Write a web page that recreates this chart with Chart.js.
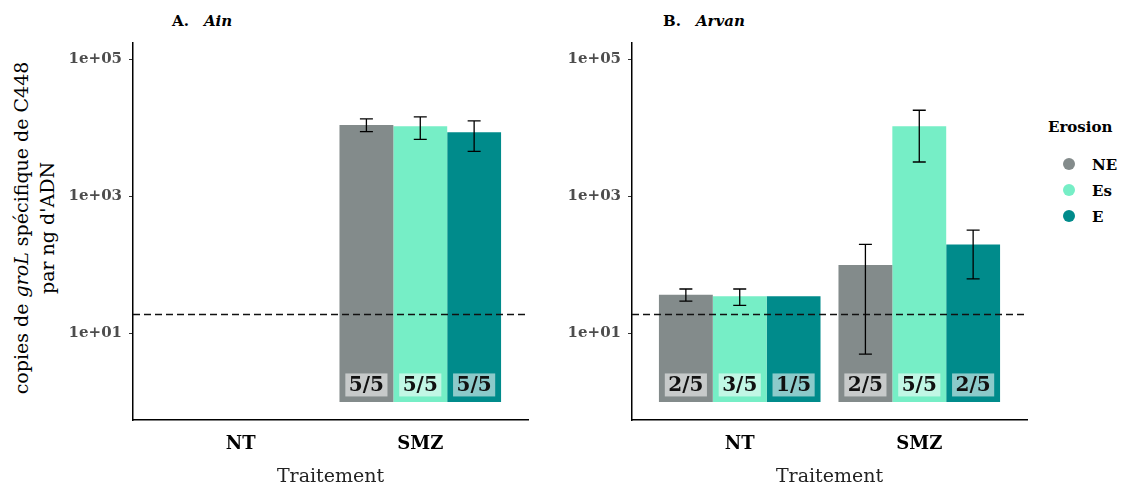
<!DOCTYPE html>
<html>
<head>
<meta charset="utf-8">
<script src="https://cdn.jsdelivr.net/npm/chart.js@4.4.0/dist/chart.umd.min.js"></script>
<style>
body{margin:0;background:#fff;width:1121px;height:488px;position:relative;overflow:hidden;font-family:'DejaVu Serif',serif;color:#000}
canvas{position:absolute;top:0}
#cA{left:0}
#cB{left:560px}
.ttl{position:absolute;top:12px;font-size:15px;font-weight:bold}
.ttl i{margin-left:15px}
.ylab{position:absolute;left:34px;top:228px;transform:translate(-50%,-50%) rotate(-90deg);white-space:nowrap;text-align:center;font-size:19px;line-height:26px}
.legt{position:absolute;left:1048px;top:118px;font-size:15px;font-weight:bold}
.li{position:absolute;left:1063px;font-size:15px;font-weight:bold;line-height:18px}
.li span{display:inline-block;width:12px;height:12px;border-radius:50%;vertical-align:middle;margin-right:17px;position:relative;top:-2px}
</style>
</head>
<body>
<div class="ttl" style="left:172px">A.<i>Ain</i></div>
<div class="ttl" style="left:663px">B.<i>Arvan</i></div>
<div class="ylab">copies de <i>groL</i> spécifique de C448<br>par ng d'ADN</div>
<canvas id="cA" width="560" height="488"></canvas>
<canvas id="cB" width="480" height="488"></canvas>
<div class="legt">Erosion</div>
<div class="li" style="top:156px"><span style="background:#838b8b"></span>NE</div>
<div class="li" style="top:182px"><span style="background:#76eec6"></span>Es</div>
<div class="li" style="top:208px"><span style="background:#008b8b"></span>E</div>
<script>
var FONT="'DejaVu Serif', serif";
var categories=['NT','SMZ'];
var seriesNames=['NE','Es','E'];
var seriesColors=['#838b8b','#76eec6','#008b8b'];
var yTicks=[10,1000,100000];
var yTickLabels=['1e+01','1e+03','1e+05'];
var threshold=19;

// A. Ain
var ainNE=[null,11100], ainNElo=[null,8900], ainNEhi=[null,13600], ainNEn=[null,'5/5'];
var ainEs=[null,10600], ainEslo=[null,6850], ainEshi=[null,14600], ainEsn=[null,'5/5'];
var ainE=[null,8700],  ainElo=[null,4570], ainEhi=[null,12700], ainEn=[null,'5/5'];

// B. Arvan
var arvNE=[37,100], arvNElo=[29.7,5.0], arvNEhi=[44.8,200], arvNEn=['2/5','2/5'];
var arvEs=[35,10600], arvEslo=[25.9,3200], arvEshi=[44.8,18200], arvEsn=['3/5','5/5'];
var arvE=[35,200],  arvElo=[null,63], arvEhi=[null,325], arvEn=['1/5','2/5'];

function mkSet(k,vals,lo,hi,n){
    return {label:seriesNames[k],data:vals.map(function(v,i){return {x:i+1,y:v};}),
        backgroundColor:seriesColors[k],borderWidth:0,base:1,
        errLow:lo,errHigh:hi,counts:n};
}

var extras={
    id:'extras',
    afterDatasetsDraw:function(chart){
        var ctx=chart.ctx, ys=chart.scales.y, a=chart.chartArea;
        ctx.save();
        // n/5 labels
        ctx.font='bold 20px '+FONT;
        ctx.textAlign='center';ctx.textBaseline='middle';
        chart.data.datasets.forEach(function(ds,di){
            chart.getDatasetMeta(di).data.forEach(function(bar,i){
                if(ds.data[i].y==null||!ds.counts[i]) return;
                var cy=ys.getPixelForValue(1.78), w=ctx.measureText(ds.counts[i]).width+7;
                ctx.fillStyle='rgba(255,255,255,0.55)';
                ctx.fillRect(bar.x-w/2,cy-11.5,w,23);
                ctx.fillStyle='#111';
                ctx.fillText(ds.counts[i],bar.x,cy+1);
            });
        });
        // dashed threshold
        var ty=ys.getPixelForValue(threshold);
        ctx.strokeStyle='#111';ctx.lineWidth=1.4;ctx.setLineDash([7,4]);
        ctx.beginPath();ctx.moveTo(a.left,ty);ctx.lineTo(a.right,ty);ctx.stroke();
        ctx.setLineDash([]);
        // error bars
        ctx.lineWidth=1.3;ctx.strokeStyle='#000';
        chart.data.datasets.forEach(function(ds,di){
            chart.getDatasetMeta(di).data.forEach(function(bar,i){
                if(ds.errLow[i]==null||ds.errHigh[i]==null) return;
                var y1=ys.getPixelForValue(ds.errHigh[i]), y2=ys.getPixelForValue(ds.errLow[i]);
                ctx.beginPath();
                ctx.moveTo(bar.x,y1);ctx.lineTo(bar.x,y2);
                ctx.moveTo(bar.x-6.5,y1);ctx.lineTo(bar.x+6.5,y1);
                ctx.moveTo(bar.x-6.5,y2);ctx.lineTo(bar.x+6.5,y2);
                ctx.stroke();
            });
        });
        ctx.restore();
    }
};

function makeChart(id,sets,yWidth,padRight){
    return new Chart(document.getElementById(id),{
        type:'bar',
        data:{datasets:sets},
        options:{
            responsive:false,animation:false,
            layout:{padding:{left:0,right:padRight,top:43,bottom:0}},
            datasets:{bar:{categoryPercentage:0.9,barPercentage:1}},
            plugins:{legend:{display:false},tooltip:{enabled:false}},
            scales:{
                x:{type:'linear',min:0.4,max:2.6,offset:false,
                    afterBuildTicks:function(s){s.ticks=categories.map(function(c,i){return {value:i+1};});},
                    afterFit:function(s){s.height=68;},
                    ticks:{callback:function(v){return categories[v-1];},font:{family:FONT,size:18,weight:'bold'},color:'#000',padding:14,maxRotation:0},
                    grid:{display:false,drawTicks:false},
                    border:{display:true,color:'#000',width:1.5},
                    title:{display:true,text:'Traitement',font:{family:FONT,size:19,lineHeight:1},color:'#222',padding:{top:0,bottom:1}}
                },
                y:{type:'logarithmic',min:0.548,max:174600,
                    afterBuildTicks:function(s){s.ticks=yTicks.map(function(v){return {value:v};});},
                    afterFit:function(s){s.width=yWidth;},
                    ticks:{callback:function(v,i){return yTickLabels[i];},font:{family:FONT,size:15,weight:'bold'},color:'#4d4d4d',padding:7},
                    grid:{display:true,drawOnChartArea:false,drawTicks:true,tickLength:4,color:'#333',lineWidth:1},
                    border:{display:true,color:'#000',width:1.5}
                }
            }
        },
        plugins:[extras]
    });
}

makeChart('cA',[
    mkSet(0,ainNE,ainNElo,ainNEhi,ainNEn),
    mkSet(1,ainEs,ainEslo,ainEshi,ainEsn),
    mkSet(2,ainE,ainElo,ainEhi,ainEn)
],133,32);

makeChart('cB',[
    mkSet(0,arvNE,arvNElo,arvNEhi,arvNEn),
    mkSet(1,arvEs,arvEslo,arvEshi,arvEsn),
    mkSet(2,arvE,arvElo,arvEhi,arvEn)
],72,13);
</script>
</body>
</html>
